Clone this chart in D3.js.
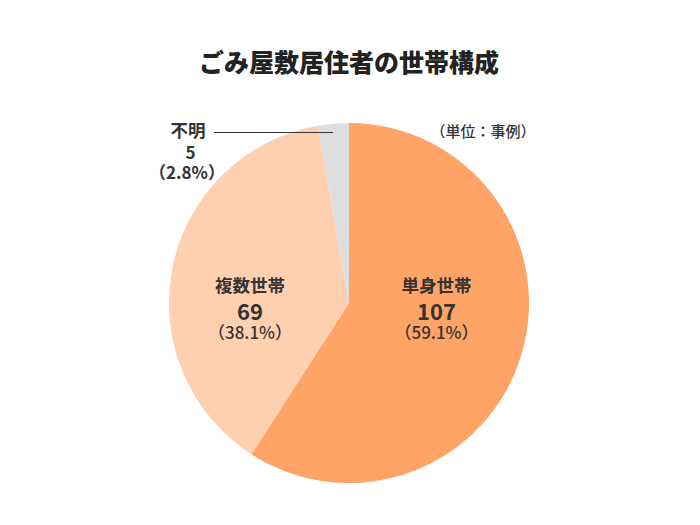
<!DOCTYPE html>
<html><head><meta charset="utf-8">
<script src="https://cdn.jsdelivr.net/npm/d3@7"></script>
<style>body{margin:0;background:#fff;}svg{display:block;font-family:"Noto Sans CJK JP","Noto Sans",sans-serif;}</style>
</head><body>
<script>
const categories = ["単身世帯", "複数世帯", "不明"];
const values = [107, 69, 5];
const percents = ["59.1%", "38.1%", "2.8%"];
const colors = ["#FFA366", "#FFD0B0", "#DDDDDD"];
const title = "ごみ屋敷居住者の世帯構成";
const unitLabel = "（単位：事例）";

const W = 700, H = 525, cx = 349, cy = 303, R = 180;
const svg = d3.select("body").append("svg").attr("width", W).attr("height", H);

svg.append("text").attr("x", 349).attr("y", 72).attr("text-anchor", "middle")
  .attr("font-size", 25).attr("font-weight", 900).attr("fill", "#222").text(title);

const pie = d3.pie().sort(null).value(d => d)(values);
const arc = d3.arc().innerRadius(0).outerRadius(R);
const g = svg.append("g").attr("transform", `translate(${cx},${cy})`);
g.selectAll("path").data(pie).join("path").attr("d", arc).attr("fill", (d, i) => colors[i]);

// labels for big slices
const labelX = [436.5, 250];
[0, 1].forEach(i => {
  const x = labelX[i];
  const t = svg.append("g").attr("fill", "#333").attr("text-anchor", "middle");
  t.append("text").attr("x", x).attr("y", 292).attr("font-size", 17.5).attr("font-weight", 700).text(categories[i]);
  t.append("text").attr("x", x).attr("y", 320).attr("font-size", 22).attr("font-weight", 700).text(values[i]);
  t.append("text").attr("x", x).attr("y", 339).attr("font-size", 17).attr("font-weight", 500).text("（" + percents[i] + "）");
});

// unknown label with leader line
const u = svg.append("g").attr("fill", "#333").attr("text-anchor", "middle");
u.append("text").attr("x", 188).attr("y", 137).attr("font-size", 17.5).attr("font-weight", 700).text(categories[2]);
u.append("text").attr("x", 190.5).attr("y", 159).attr("font-size", 17).attr("font-weight", 700).text(values[2]);
u.append("text").attr("x", 187).attr("y", 179).attr("font-size", 17).attr("font-weight", 700).text("（" + percents[2] + "）");
svg.append("line").attr("x1", 214).attr("x2", 333).attr("y1", 132.5).attr("y2", 132.5)
  .attr("stroke", "#333").attr("stroke-width", 1.2);

svg.append("text").attr("x", 483).attr("y", 137).attr("text-anchor", "middle")
  .attr("font-size", 15).attr("font-weight", 500).attr("fill", "#333").text(unitLabel);
</script>
</body></html>
